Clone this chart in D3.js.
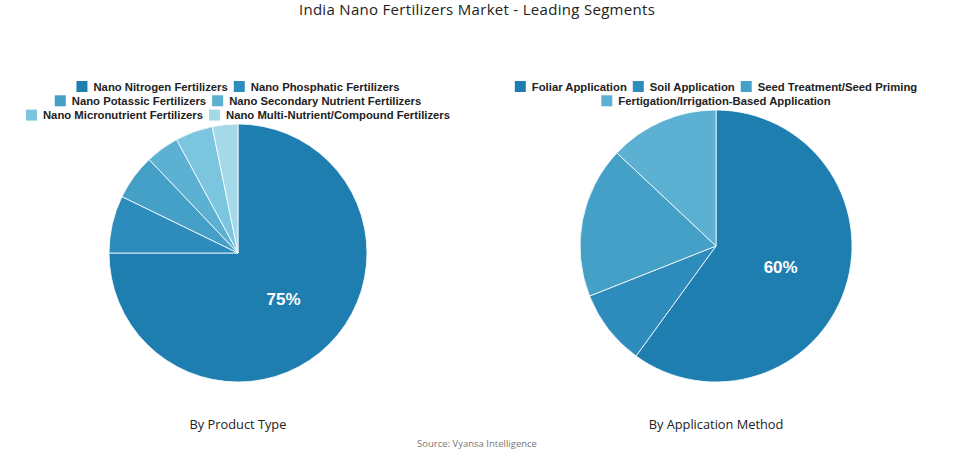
<!DOCTYPE html>
<html>
<head>
<meta charset="utf-8">
<script src="https://cdn.jsdelivr.net/npm/d3@7"></script>
<style>
  html, body { margin: 0; padding: 0; background: #fff; }
  svg { display: block; }
</style>
</head>
<body>
<svg id="chart" width="955" height="454"></svg>
<script>
const chartTitle = "India Nano Fertilizers Market - Leading Segments";
const sourceText = "Source: Vyansa Intelligence";

const productCategories = [
  "Nano Nitrogen Fertilizers",
  "Nano Phosphatic Fertilizers",
  "Nano Potassic Fertilizers",
  "Nano Secondary Nutrient Fertilizers",
  "Nano Micronutrient Fertilizers",
  "Nano Multi-Nutrient/Compound Fertilizers"
];
const productValues = [75, 7.2, 5.7, 4.2, 4.7, 3.2];

const applicationCategories = [
  "Foliar Application",
  "Soil Application",
  "Seed Treatment/Seed Priming",
  "Fertigation/Irrigation-Based Application"
];
const applicationValues = [60, 9, 18, 13];

const palette = ["#1f7eb0", "#2e8cbd", "#45a0c8", "#5cb1d3", "#7cc5de", "#a3d9e9"];

const svg = d3.select("#chart");

svg.append("text")
  .attr("x", 477).attr("y", 15)
  .attr("text-anchor", "middle")
  .attr("font-family", "'Open Sans', sans-serif")
  .attr("font-size", 15)
  .attr("letter-spacing", 0.3)
  .attr("fill", "#222")
  .text(chartTitle);

svg.append("text")
  .attr("x", 477).attr("y", 447)
  .attr("text-anchor", "middle")
  .attr("font-family", "'Open Sans', sans-serif")
  .attr("font-size", 9.5)
  .attr("fill", "#777")
  .text(sourceText);

function drawPanel(opts) {
  const { cx, cy, r, cats, vals, subtitle, legendTop, maxW } = opts;
  const g = svg.append("g");
  const color = d3.scaleOrdinal().domain(cats).range(palette);

  // Legend with flow layout
  const leg = g.append("g");
  const sw = 11, gapText = 6, gapItem = 6, rowH = 14.3, fs = 11.3;
  const items = cats.map(c => {
    const it = leg.append("g");
    it.append("rect").attr("width", sw).attr("height", sw).attr("fill", color(c));
    const t = it.append("text")
      .attr("x", sw + gapText).attr("y", sw / 2)
      .attr("dy", "0.36em")
      .attr("font-family", "'Liberation Sans', Arial, sans-serif")
      .attr("font-weight", "bold")
      .attr("font-size", fs)
      .attr("fill", "#222")
      .text(c);
    const w = sw + gapText + t.node().getComputedTextLength();
    return { it, w };
  });
  const rows = [];
  let cur = [], curW = 0;
  items.forEach(d => {
    const add = (cur.length ? gapItem : 0) + d.w;
    if (cur.length && curW + add > maxW) {
      rows.push({ items: cur, w: curW });
      cur = [d]; curW = d.w;
    } else { cur.push(d); curW += add; }
  });
  if (cur.length) rows.push({ items: cur, w: curW });
  rows.forEach((row, ri) => {
    let x = cx - row.w / 2;
    row.items.forEach(d => {
      d.it.attr("transform", `translate(${x},${legendTop + ri * rowH})`);
      x += d.w + gapItem;
    });
  });

  // Pie
  const pie = d3.pie().sort(null).value(d => d.v);
  const arcs = pie(cats.map((c, i) => ({ c, v: vals[i] })));
  const arc = d3.arc().innerRadius(0).outerRadius(r);
  const labelArc = d3.arc().innerRadius(r * 0.5).outerRadius(r * 0.5);
  const pg = g.append("g").attr("transform", `translate(${cx},${cy})`);
  pg.selectAll("path").data(arcs).join("path")
    .attr("d", arc)
    .attr("fill", d => color(d.data.c))
    .attr("stroke", "#fff")
    .attr("stroke-opacity", 0.8)
    .attr("stroke-width", 1);
  const total = d3.sum(vals);
  pg.selectAll("text.lbl").data(arcs.filter(d => d.data.v / total > 0.3)).join("text")
    .attr("class", "lbl")
    .attr("transform", d => `translate(${labelArc.centroid(d)})`)
    .attr("text-anchor", "middle")
    .attr("dy", "0.36em")
    .attr("font-family", "'Liberation Sans', Arial, sans-serif")
    .attr("font-weight", "bold")
    .attr("font-size", 17)
    .attr("fill", "#fff")
    .text(d => Math.round(d.data.v / total * 100) + "%");

  g.append("text")
    .attr("x", cx).attr("y", 429)
    .attr("text-anchor", "middle")
    .attr("font-family", "'Open Sans', sans-serif")
    .attr("font-size", 12.8)
    .attr("fill", "#222")
    .text(subtitle);
}

drawPanel({ cx: 238, cy: 253, r: 129, cats: productCategories, vals: productValues,
  subtitle: "By Product Type", legendTop: 81, maxW: 440 });
drawPanel({ cx: 716, cy: 246, r: 136, cats: applicationCategories, vals: applicationValues,
  subtitle: "By Application Method", legendTop: 81, maxW: 440 });
</script>
</body>
</html>
